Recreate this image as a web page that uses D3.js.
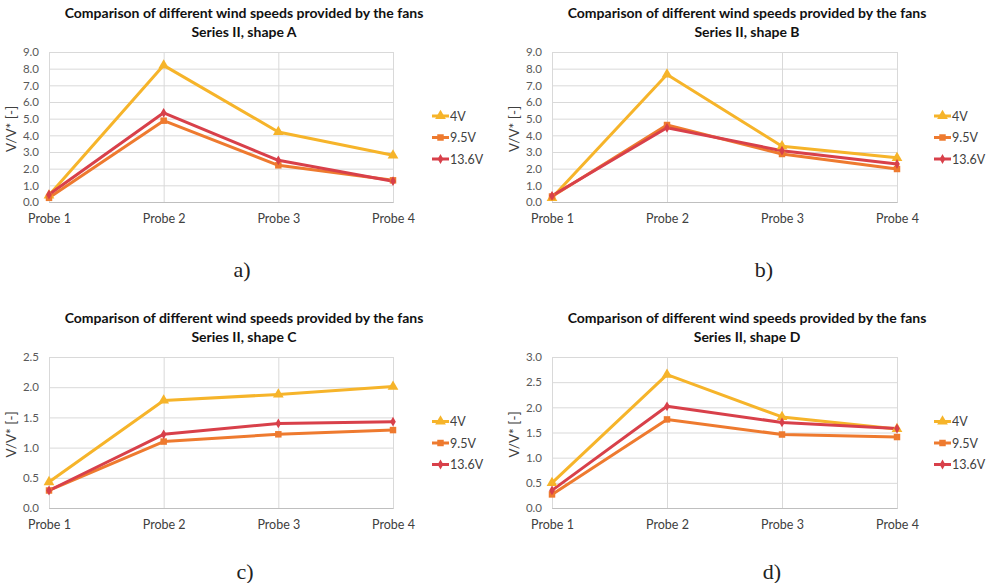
<!DOCTYPE html>
<html>
<head>
<meta charset="utf-8">
<script src="https://cdn.jsdelivr.net/npm/d3@7"></script>
<style>
  html, body { margin: 0; padding: 0; background: #fff; }
  svg { display: block; }
</style>
</head>
<body>
<svg id="chart" width="994" height="583"></svg>
<script>
// ---------- data ----------
const categories = ["Probe 1", "Probe 2", "Probe 3", "Probe 4"];
const seriesNames = ["4V", "9.5V", "13.6V"];
const panelTitle1 = "Comparison of different wind speeds provided by the fans";
const panelSubtitles = ["Series II, shape A", "Series II, shape B", "Series II, shape C", "Series II, shape D"];
const panelCaptions = ["a)", "b)", "c)", "d)"];

const shapeA_4V    = [0.40, 8.20, 4.20, 2.80];
const shapeA_9_5V  = [0.25, 4.88, 2.20, 1.30];
const shapeA_13_6V = [0.45, 5.35, 2.50, 1.25];

const shapeB_4V    = [0.25, 7.65, 3.35, 2.65];
const shapeB_9_5V  = [0.33, 4.62, 2.88, 1.98];
const shapeB_13_6V = [0.37, 4.45, 3.08, 2.28];

const shapeC_4V    = [0.43, 1.78, 1.88, 2.01];
const shapeC_9_5V  = [0.29, 1.10, 1.22, 1.29];
const shapeC_13_6V = [0.29, 1.22, 1.40, 1.43];

const shapeD_4V    = [0.50, 2.65, 1.81, 1.57];
const shapeD_9_5V  = [0.27, 1.76, 1.46, 1.41];
const shapeD_13_6V = [0.35, 2.02, 1.70, 1.58];

const yTicksAB = [0, 1, 2, 3, 4, 5, 6, 7, 8, 9];
const yTicksC  = [0, 0.5, 1, 1.5, 2, 2.5];
const yTicksD  = [0, 0.5, 1, 1.5, 2, 2.5, 3];

// ---------- layout ----------
const colors = ["#F6B42A", "#EE7A2F", "#D8404A"];
const panels = [
  { series: [shapeA_4V, shapeA_9_5V, shapeA_13_6V], ticks: yTicksAB, x0: 49,  x1: 393, y0: 52,  y1: 202, titleX: 244, legX: 432, capX: 242, capY: 277 },
  { series: [shapeB_4V, shapeB_9_5V, shapeB_13_6V], ticks: yTicksAB, x0: 552, x1: 897, y0: 52,  y1: 202, titleX: 747, legX: 934, capX: 764, capY: 277 },
  { series: [shapeC_4V, shapeC_9_5V, shapeC_13_6V], ticks: yTicksC,  x0: 49,  x1: 393, y0: 357, y1: 508, titleX: 244, legX: 432, capX: 245, capY: 579 },
  { series: [shapeD_4V, shapeD_9_5V, shapeD_13_6V], ticks: yTicksD,  x0: 552, x1: 897, y0: 357, y1: 508, titleX: 747, legX: 934, capX: 772, capY: 579 }
];

const svg = d3.select("#chart");
const font = "Lato, 'Open Sans', sans-serif";

const symbolTypes = [d3.symbolTriangle, d3.symbolSquare, d3.symbolDiamond];
const symbolSizes = [50, 42, 28];

panels.forEach((p, pi) => {
  const g = svg.append("g");
  const x = d3.scalePoint().domain(categories).range([p.x0, p.x1]).padding(0);
  const yMax = p.ticks[p.ticks.length - 1];
  const y = d3.scaleLinear().domain([0, yMax]).range([p.y1, p.y0]);

  // titles
  g.append("text").attr("x", p.titleX).attr("y", p.y0 - 34)
    .attr("text-anchor", "middle").attr("font-family", font).attr("font-weight", "bold")
    .attr("font-size", 14).attr("fill", "#111").text(panelTitle1);
  g.append("text").attr("x", p.titleX).attr("y", p.y0 - 15)
    .attr("text-anchor", "middle").attr("font-family", font).attr("font-weight", "bold")
    .attr("font-size", 14).attr("fill", "#111").text(panelSubtitles[pi]);

  // horizontal gridlines + y labels
  const yAxis = d3.axisLeft(y).tickValues(p.ticks).tickFormat(d3.format(".1f"))
    .tickSize(-(p.x1 - p.x0)).tickPadding(10);
  const ya = g.append("g").attr("transform", `translate(${p.x0},0)`).call(yAxis);
  ya.select(".domain").remove();
  ya.selectAll(".tick line").attr("stroke", "#d9d9d9").attr("stroke-width", 1);
  ya.selectAll(".tick text").attr("font-family", font).attr("font-size", 11.5).attr("fill", "#595959");

  // vertical gridlines + x labels
  const xAxis = d3.axisBottom(x).tickSize(-(p.y1 - p.y0)).tickPadding(12);
  const xa = g.append("g").attr("transform", `translate(0,${p.y1})`).call(xAxis);
  xa.select(".domain").attr("stroke", "#bfbfbf");
  xa.selectAll(".tick line").attr("stroke", "#d9d9d9").attr("stroke-width", 1);
  xa.selectAll(".tick text").attr("font-family", font).attr("font-size", 12.5).attr("fill", "#404040");

  // y axis title
  g.append("text")
    .attr("transform", `translate(${p.x0 - 33},${(p.y0 + p.y1) / 2 + 2}) rotate(-90)`)
    .attr("text-anchor", "middle").attr("font-family", font).attr("font-size", 13.5)
    .attr("fill", "#404040").text("V/V* [-]");

  // lines
  const line = d3.line().x((d, i) => x(categories[i])).y(d => y(d));
  const order = [0, 1, 2];
  order.forEach(si => {
    g.append("path").datum(p.series[si])
      .attr("d", line).attr("fill", "none").attr("stroke", colors[si])
      .attr("stroke-width", 3).attr("stroke-linejoin", "round");
  });
  order.forEach(si => {
    g.selectAll(null).data(p.series[si]).enter().append("path")
      .attr("transform", (d, i) => `translate(${x(categories[i])},${y(d)})`)
      .attr("d", d3.symbol().type(symbolTypes[si]).size(symbolSizes[si]))
      .attr("fill", colors[si]);
  });

  // legend
  const legY0 = (p.y0 + p.y1) / 2 - 11;
  seriesNames.forEach((name, si) => {
    const ly = legY0 + si * 21.5;
    g.append("line").attr("x1", p.legX).attr("x2", p.legX + 17).attr("y1", ly).attr("y2", ly)
      .attr("stroke", colors[si]).attr("stroke-width", 3);
    g.append("path").attr("transform", `translate(${p.legX + 8.5},${ly})`)
      .attr("d", d3.symbol().type(symbolTypes[si]).size(symbolSizes[si])).attr("fill", colors[si]);
    g.append("text").attr("x", p.legX + 18).attr("y", ly + 4.5)
      .attr("font-family", font).attr("font-size", 12.5).attr("fill", "#404040").text(name);
  });

  // caption
  g.append("text").attr("x", p.capX).attr("y", p.capY).attr("text-anchor", "middle")
    .attr("font-family", "'Liberation Serif', 'DejaVu Serif', serif").attr("font-size", 22)
    .attr("fill", "#222").text(panelCaptions[pi]);
});
</script>
</body>
</html>
